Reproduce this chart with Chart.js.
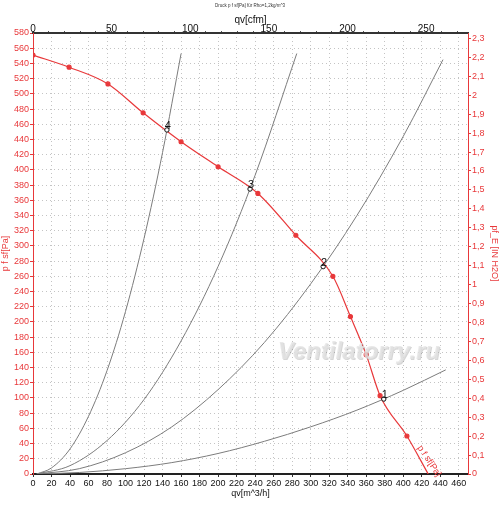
<!DOCTYPE html>
<html>
<head>
<meta charset="utf-8">
<script src="https://cdn.jsdelivr.net/npm/chart.js@4.4.0/dist/chart.umd.min.js"></script>
<style>
  html, body { margin: 0; padding: 0; background: #fff; }
  canvas { display: block; }
</style>
</head>
<body>
<canvas id="fanChart" width="500" height="506"></canvas>
<script>
// fan curve p f sf [Pa] against qv [m^3/h]
const fanFlow = [0, 39, 81, 119, 160, 200, 243, 284, 324, 343, 360, 375, 404, 427];
const fanPress = [551, 535, 513, 475, 437, 404, 369, 314, 260, 207, 157, 103, 50, 0];

// system curves
const sys1Flow = [4, 50, 100, 150, 200, 250, 300, 350, 400, 446];
const sys1Press = [0, 2, 7, 15, 27, 43, 62, 84, 110, 137];
const sys2Flow = [4, 50, 100, 150, 200, 250, 300, 350, 400, 443];
const sys2Press = [0, 7, 28, 62, 111, 173, 250, 340, 444, 545];
const sys3Flow = [4, 40, 80, 120, 160, 200, 240, 285];
const sys3Press = [0, 11, 44, 98, 175, 273, 393, 553];
const sys4Flow = [4, 20, 40, 60, 80, 100, 120, 140, 160];
const sys4Press = [0, 8, 33, 76, 136, 214, 310, 423, 553];

// operating points
const opFlow = [379, 313.5, 234.5, 144.7];
const opPress = [98.6, 272.7, 374.8, 452.5];
const opLabels = ['1', '2', '3', '4'];

const FLOW_MAX = 470;
const PRESS_MAX = 580;
const M3H_PER_CFM = 1.699;
const PA_PER_INH2O = 249.089;

const RED = '#e8383a';
const GREY = '#7c7c7c';
const FONT = 'Arial, "Liberation Sans", sans-serif';

function pts(xs, ys) {
    return xs.map((x, i) => ({ x: x, y: ys[i] }));
}

function sysSet(xs, ys) {
    return {
        data: pts(xs, ys),
        showLine: true,
        borderColor: GREY,
        borderWidth: 1,
        pointRadius: 0,
        cubicInterpolationMode: 'monotone',
        order: 3
    };
}

const extras = {
    id: 'extras',
    afterDraw(chart) {
        const ctx = chart.ctx;
        const x = chart.scales.x;
        const y = chart.scales.y;
        ctx.save();

        // title
        ctx.fillStyle = '#333';
        ctx.font = '4.5px ' + FONT;
        ctx.textAlign = 'center';
        ctx.textBaseline = 'middle';
        ctx.fillText('Druck p f sf[Pa] für Rho=1,2kg/m^3', 250, 6);

        // watermark
        const wx = x.getPixelForValue(352);
        const wy = y.getPixelForValue(160);
        ctx.font = 'italic bold 24px ' + FONT;
        ctx.fillStyle = 'rgba(120,120,120,0.3)';
        ctx.fillText('Ventilatorry.ru', wx + 1, wy + 1);
        ctx.fillStyle = 'rgba(228,228,228,0.8)';
        ctx.fillText('Ventilatorry.ru', wx, wy);

        // operating point numbers
        ctx.fillStyle = '#111';
        ctx.font = '11px ' + FONT;
        ctx.textBaseline = 'alphabetic';
        opLabels.forEach((lab, i) => {
            const px = x.getPixelForValue(opFlow[i]);
            const py = y.getPixelForValue(opPress[i]);
            ctx.fillText(lab, px + 1, py - 1);
        });

        // curve name along the red line
        const lx = x.getPixelForValue(428);
        const ly = y.getPixelForValue(17);
        ctx.translate(lx, ly);
        ctx.rotate(56 * Math.PI / 180);
        ctx.fillStyle = RED;
        ctx.font = '9px ' + FONT;
        ctx.textBaseline = 'middle';
        ctx.fillText('p f sf[Pa]', 0, 0);
        ctx.restore();
    }
};

new Chart(document.getElementById('fanChart'), {
    type: 'scatter',
    data: {
        datasets: [
            {
                data: pts(opFlow, opPress),
                pointRadius: 2.2,
                pointBorderColor: '#111',
                pointBackgroundColor: '#fff',
                pointBorderWidth: 1,
                order: 0
            },
            {
                data: pts(fanFlow, fanPress),
                showLine: true,
                borderColor: RED,
                borderWidth: 1.2,
                pointRadius: fanFlow.map((v, i) => i == fanFlow.length - 1 ? 0 : 2),
                pointBackgroundColor: RED,
                pointBorderColor: RED,
                cubicInterpolationMode: 'monotone',
                order: 1
            },
            sysSet(sys1Flow, sys1Press),
            sysSet(sys2Flow, sys2Press),
            sysSet(sys3Flow, sys3Press),
            sysSet(sys4Flow, sys4Press)
        ]
    },
    options: {
        responsive: false,
        animation: false,
        devicePixelRatio: 1,
        layout: { padding: 0 },
        plugins: {
            legend: { display: false },
            tooltip: { enabled: false }
        },
        scales: {
            x: {
                type: 'linear',
                position: 'bottom',
                min: 0,
                max: FLOW_MAX,
                afterFit: s => { s.height = 32; },
                ticks: {
                    stepSize: 20,
                    includeBounds: false,
                    maxRotation: 0,
                    autoSkip: false,
                    color: '#111',
                    padding: 1,
                    font: { family: FONT, size: 9 }
                },
                grid: {
                    color: '#c4c4c4',
                    tickColor: '#333',
                    tickLength: 3,
                    tickBorderDash: []
                },
                border: { color: '#222', width: 2, dash: [1, 3] },
                title: {
                    display: true,
                    text: 'qv[m^3/h]',
                    color: '#111',
                    font: { family: FONT, size: 9 },
                    padding: { top: 0, bottom: 7 }
                }
            },
            xTop: {
                type: 'linear',
                position: 'top',
                min: 0,
                max: FLOW_MAX / M3H_PER_CFM,
                afterFit: s => { s.height = 33; },
                ticks: {
                    stepSize: 10,
                    includeBounds: false,
                    maxRotation: 0,
                    autoSkip: false,
                    color: '#111',
                    padding: -4,
                    font: { family: FONT, size: 10 },
                    callback: v => (Math.round(v) % 50 == 0 ? String(Math.round(v)) : '')
                },
                grid: {
                    drawOnChartArea: false,
                    tickColor: '#555',
                    tickLength: 2
                },
                border: { color: '#333', width: 2 },
                title: {
                    display: true,
                    text: 'qv[cfm]',
                    color: '#111',
                    font: { family: FONT, size: 10 },
                    padding: { top: 14, bottom: 0 }
                }
            },
            y: {
                type: 'linear',
                position: 'left',
                min: 0,
                max: PRESS_MAX,
                afterFit: s => { s.width = 33; },
                ticks: {
                    stepSize: 20,
                    color: RED,
                    padding: 1,
                    font: { family: FONT, size: 9 }
                },
                grid: {
                    color: '#c4c4c4',
                    tickColor: RED,
                    tickLength: 3,
                    tickBorderDash: []
                },
                border: { color: RED, width: 1, dash: [1, 3] },
                title: {
                    display: true,
                    text: 'p f sf[Pa]',
                    color: RED,
                    font: { family: FONT, size: 9 },
                    padding: { top: 0, bottom: 0 }
                }
            },
            yRight: {
                type: 'linear',
                position: 'right',
                min: 0,
                max: PRESS_MAX / PA_PER_INH2O,
                afterFit: s => { s.width = 32; },
                ticks: {
                    stepSize: 0.1,
                    includeBounds: false,
                    color: RED,
                    padding: 1,
                    font: { family: FONT, size: 9 },
                    callback: v => String(Math.round(v * 10) / 10).replace('.', ',')
                },
                grid: {
                    drawOnChartArea: false,
                    tickColor: RED,
                    tickLength: 3
                },
                border: { color: RED, width: 1 },
                title: {
                    display: true,
                    text: 'pf_E [IN H2O]',
                    color: RED,
                    font: { family: FONT, size: 9 },
                    padding: { top: 0, bottom: 4 }
                }
            }
        }
    },
    plugins: [extras]
});
</script>
</body>
</html>
